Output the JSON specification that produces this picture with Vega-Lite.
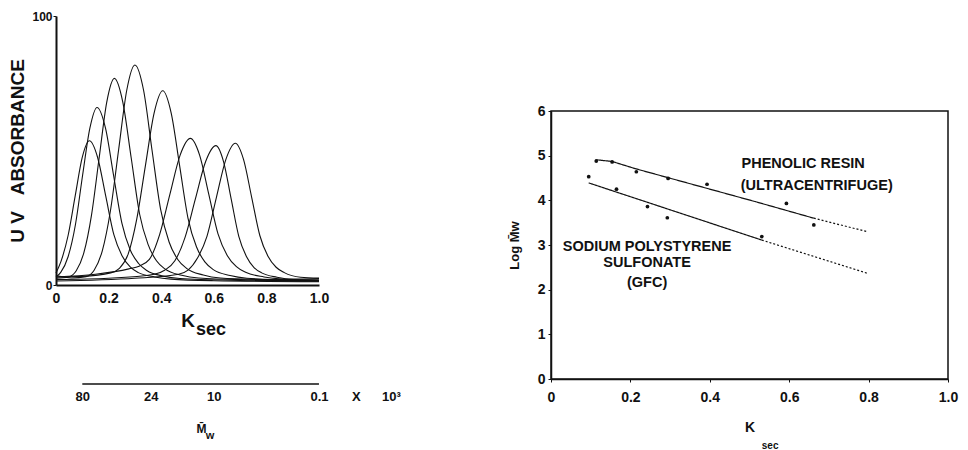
{
  "$schema": "https://vega.github.io/schema/vega-lite/v6.json",
  "background": "white",
  "padding": {"left": 8, "top": 10, "right": 5, "bottom": 0},
  "config": {
    "font": "Liberation Sans",
    "view": {"stroke": null},
    "axis": {"labelFont": "Liberation Sans", "titleFont": "Liberation Sans", "labelFontWeight": "bold", "titleFontWeight": "bold", "labelColor": "#111", "titleColor": "#111", "domainColor": "#111", "tickColor": "#111", "grid": false, "labelOverlap": false},
    "text": {"font": "Liberation Sans", "fontWeight": "bold", "color": "#111"}
  },
  "datasets": {
    "uv": [
      {"c":1,"k":0,"v":4.5},{"c":1,"k":0.019,"v":8.8},{"c":1,"k":0.046,"v":18.4},{"c":1,"k":0.073,"v":33.1},{"c":1,"k":0.1,"v":47.5},{"c":1,"k":0.127,"v":53.6},{"c":1,"k":0.158,"v":47.5},{"c":1,"k":0.189,"v":33.1},{"c":1,"k":0.22,"v":18.7},{"c":1,"k":0.251,"v":10.9},{"c":1,"k":0.282,"v":6.7},{"c":1,"k":0.313,"v":4.6},{"c":1,"k":0.375,"v":3.0},{"c":1,"k":0.437,"v":2.2},{"c":1,"k":0.6,"v":1.6},{"c":1,"k":1.0,"v":1.2},
      {"c":2,"k":0,"v":3.0},{"c":2,"k":0.018,"v":4.7},{"c":2,"k":0.046,"v":10.5},{"c":2,"k":0.074,"v":22.5},{"c":2,"k":0.101,"v":40.7},{"c":2,"k":0.129,"v":58.4},{"c":2,"k":0.156,"v":66.0},{"c":2,"k":0.188,"v":58.4},{"c":2,"k":0.219,"v":40.7},{"c":2,"k":0.251,"v":22.8},{"c":2,"k":0.282,"v":13.1},{"c":2,"k":0.314,"v":8.0},{"c":2,"k":0.345,"v":5.4},{"c":2,"k":0.408,"v":3.3},{"c":2,"k":0.471,"v":2.4},{"c":2,"k":0.7,"v":1.7},{"c":2,"k":1.0,"v":1.4},
      {"c":3,"k":0,"v":2.5},{"c":3,"k":0.048,"v":3.0},{"c":3,"k":0.077,"v":5.3},{"c":3,"k":0.106,"v":12.0},{"c":3,"k":0.135,"v":26.0},{"c":3,"k":0.164,"v":47.2},{"c":3,"k":0.193,"v":68.0},{"c":3,"k":0.222,"v":76.8},{"c":3,"k":0.254,"v":68.0},{"c":3,"k":0.286,"v":47.2},{"c":3,"k":0.318,"v":26.3},{"c":3,"k":0.35,"v":15.1},{"c":3,"k":0.382,"v":9.0},{"c":3,"k":0.414,"v":6.0},{"c":3,"k":0.478,"v":3.6},{"c":3,"k":0.542,"v":2.6},{"c":3,"k":0.75,"v":1.9},{"c":3,"k":1.0,"v":1.5},
      {"c":4,"k":0,"v":3.5},{"c":4,"k":0.06,"v":2.6},{"c":4,"k":0.114,"v":3.1},{"c":4,"k":0.145,"v":5.5},{"c":4,"k":0.176,"v":12.7},{"c":4,"k":0.207,"v":27.6},{"c":4,"k":0.238,"v":50.2},{"c":4,"k":0.269,"v":72.4},{"c":4,"k":0.3,"v":81.8},{"c":4,"k":0.333,"v":72.4},{"c":4,"k":0.365,"v":50.2},{"c":4,"k":0.398,"v":28.0},{"c":4,"k":0.43,"v":16.0},{"c":4,"k":0.463,"v":9.5},{"c":4,"k":0.495,"v":6.3},{"c":4,"k":0.56,"v":3.7},{"c":4,"k":0.625,"v":2.6},{"c":4,"k":0.8,"v":2.0},{"c":4,"k":1.0,"v":1.7},
      {"c":5,"k":0,"v":3.0},{"c":5,"k":0.1,"v":3.2},{"c":5,"k":0.208,"v":4.5},{"c":5,"k":0.241,"v":6.2},{"c":5,"k":0.274,"v":11.4},{"c":5,"k":0.307,"v":24.5},{"c":5,"k":0.34,"v":44.4},{"c":5,"k":0.373,"v":63.9},{"c":5,"k":0.406,"v":72.2},{"c":5,"k":0.438,"v":63.9},{"c":5,"k":0.47,"v":44.4},{"c":5,"k":0.502,"v":24.8},{"c":5,"k":0.534,"v":14.2},{"c":5,"k":0.566,"v":8.6},{"c":5,"k":0.598,"v":5.7},{"c":5,"k":0.662,"v":3.5},{"c":5,"k":0.726,"v":2.5},{"c":5,"k":0.85,"v":2.0},{"c":5,"k":1.0,"v":1.8},
      {"c":6,"k":0,"v":3.0},{"c":6,"k":0.15,"v":4.0},{"c":6,"k":0.277,"v":6.0},{"c":6,"k":0.316,"v":7.0},{"c":6,"k":0.355,"v":9.5},{"c":6,"k":0.394,"v":18.7},{"c":6,"k":0.433,"v":33.7},{"c":6,"k":0.472,"v":48.3},{"c":6,"k":0.511,"v":54.5},{"c":6,"k":0.546,"v":48.3},{"c":6,"k":0.581,"v":33.7},{"c":6,"k":0.616,"v":19.0},{"c":6,"k":0.651,"v":11.0},{"c":6,"k":0.686,"v":6.8},{"c":6,"k":0.721,"v":4.7},{"c":6,"k":0.791,"v":3.0},{"c":6,"k":0.861,"v":2.2},{"c":6,"k":1.0,"v":1.8},
      {"c":7,"k":0,"v":2.0},{"c":7,"k":0.2,"v":2.5},{"c":7,"k":0.374,"v":4.0},{"c":7,"k":0.413,"v":5.5},{"c":7,"k":0.452,"v":9.0},{"c":7,"k":0.491,"v":17.8},{"c":7,"k":0.53,"v":32.0},{"c":7,"k":0.569,"v":45.9},{"c":7,"k":0.608,"v":51.8},{"c":7,"k":0.637,"v":45.9},{"c":7,"k":0.666,"v":32.0},{"c":7,"k":0.695,"v":18.1},{"c":7,"k":0.724,"v":10.6},{"c":7,"k":0.753,"v":6.5},{"c":7,"k":0.782,"v":4.5},{"c":7,"k":0.84,"v":2.9},{"c":7,"k":0.898,"v":2.2},{"c":7,"k":1.0,"v":2.4},
      {"c":8,"k":0,"v":1.5},{"c":8,"k":0.3,"v":2.5},{"c":8,"k":0.466,"v":4.0},{"c":8,"k":0.502,"v":5.5},{"c":8,"k":0.538,"v":10.0},{"c":8,"k":0.574,"v":18.1},{"c":8,"k":0.61,"v":32.6},{"c":8,"k":0.646,"v":46.7},{"c":8,"k":0.682,"v":52.7},{"c":8,"k":0.713,"v":46.7},{"c":8,"k":0.744,"v":32.6},{"c":8,"k":0.775,"v":18.4},{"c":8,"k":0.806,"v":10.7},{"c":8,"k":0.837,"v":6.6},{"c":8,"k":0.868,"v":4.6},{"c":8,"k":0.93,"v":2.9},{"c":8,"k":1.0,"v":2.6}
    ],
    "fits": [
      {"series":"phenolic","seg":"fit","k":0.112,"logM":4.91},
      {"series":"phenolic","seg":"fit","k":0.154,"logM":4.87},
      {"series":"phenolic","seg":"fit","k":0.212,"logM":4.71},
      {"series":"phenolic","seg":"fit","k":0.515,"logM":3.97},
      {"series":"phenolic","seg":"fit","k":0.662,"logM":3.6},
      {"series":"phenolic","seg":"extrapolated","k":0.662,"logM":3.6},
      {"series":"phenolic","seg":"extrapolated","k":0.796,"logM":3.3},
      {"series":"sodium","seg":"fit","k":0.095,"logM":4.39},
      {"series":"sodium","seg":"fit","k":0.531,"logM":3.11},
      {"series":"sodium","seg":"extrapolated","k":0.531,"logM":3.11},
      {"series":"sodium","seg":"extrapolated","k":0.796,"logM":2.37}
    ],
    "points": [
      {"series":"phenolic","k":0.114,"logM":4.88},
      {"series":"phenolic","k":0.154,"logM":4.86},
      {"series":"phenolic","k":0.215,"logM":4.64},
      {"series":"phenolic","k":0.295,"logM":4.49},
      {"series":"phenolic","k":0.393,"logM":4.36},
      {"series":"phenolic","k":0.593,"logM":3.93},
      {"series":"phenolic","k":0.662,"logM":3.45},
      {"series":"sodium","k":0.095,"logM":4.53},
      {"series":"sodium","k":0.165,"logM":4.25},
      {"series":"sodium","k":0.243,"logM":3.86},
      {"series":"sodium","k":0.293,"logM":3.61},
      {"series":"sodium","k":0.531,"logM":3.19}
    ]
  },
  "spacing": 96,
  "hconcat": [
    {
      "spacing": 43,
      "vconcat": [
        {
          "width": 263,
          "height": 269,
          "layer": [
            {
              "data": {"name": "uv"},
              "mark": {"type": "line", "interpolate": "monotone", "strokeWidth": 1.1, "color": "#111"},
              "encoding": {
                "x": {"field": "k", "type": "quantitative", "scale": {"domain": [0, 1], "nice": false, "zero": false},
                  "axis": {"values": [0, 0.2, 0.4, 0.6, 0.8, 1], "labelExpr": "datum.value == 0 ? '0' : format(datum.value, '.1f')", "labelFlush": false, "ticks": false, "domainWidth": 2, "labelFontSize": 14, "labelPadding": 6, "title": "K", "titleFontSize": 19, "titlePadding": 6}},
                "y": {"field": "v", "type": "quantitative", "scale": {"domain": [0, 100], "nice": false},
                  "axis": {"values": [0, 100], "tickSize": 3, "domainWidth": 2, "labelFontSize": 12, "labelPadding": 1, "title": "U\u00a0V\u00a0\u00a0\u00a0ABSORBANCE", "titleFontSize": 19, "titlePadding": 4}},
                "detail": {"field": "c", "type": "nominal"}
              }
            },
            {
              "data": {"values": [{}]},
              "mark": {"type": "text", "text": "sec", "fontSize": 18, "baseline": "middle"},
              "encoding": {"x": {"datum": 0.589, "type": "quantitative"}, "y": {"datum": -16.9, "type": "quantitative"}}
            }
          ]
        },
        {
          "width": 355,
          "height": 1,
          "data": {"values": [{}]},
          "layer": [
            {
              "mark": {"type": "rule", "color": "#111", "strokeWidth": 1.5},
              "encoding": {
                "x": {"datum": 0.1, "type": "quantitative", "scale": {"domain": [0, 1.35], "nice": false, "zero": false},
                  "axis": {"values": [0.1, 0.36, 0.6, 1.0, 1.14, 1.274], "labelExpr": "datum.value < 0.2 ? '80' : datum.value < 0.5 ? '24' : datum.value < 0.8 ? '10' : datum.value < 1.07 ? '0.1' : datum.value < 1.2 ? 'X' : '10³'", "labelFlush": false, "domain": false, "ticks": false, "labelFontSize": 13, "labelPadding": 6, "title": "M̄", "titleFontSize": 12, "titlePadding": 20, "titleX": 145}},
                "x2": {"datum": 1.0},
                "y": {"datum": 0, "type": "quantitative", "scale": {"domain": [0, 1], "nice": false}, "axis": null}
              }
            },
            {
              "mark": {"type": "text", "text": "w", "fontSize": 11, "baseline": "middle"},
              "encoding": {"x": {"datum": 0.586, "type": "quantitative"}, "y": {"datum": -52, "type": "quantitative"}}
            }
          ]
        }
      ]
    },
    {
      "spacing": 0,
      "vconcat": [
        {
          "width": 397,
          "height": 87,
          "data": {"values": []},
          "mark": {"type": "point"},
          "encoding": {}
        },
        {
          "width": 397,
          "height": 268,
          "view": {"stroke": "#111", "strokeWidth": 1.5},
          "layer": [
            {
              "data": {"name": "fits"},
              "mark": {"type": "line", "strokeWidth": 1.2, "color": "#111"},
              "encoding": {
                "x": {"field": "k", "type": "quantitative", "scale": {"domain": [0, 1], "nice": false, "zero": false},
                  "axis": {"values": [0, 0.2, 0.4, 0.6, 0.8, 1], "labelExpr": "datum.value == 0 ? '0' : format(datum.value, '.1f')", "labelFlush": false, "tickSize": 3, "domainWidth": 1.5, "labelFontSize": 14, "labelPadding": 8, "title": "K", "titleFontSize": 14, "titlePadding": 16}},
                "y": {"field": "logM", "type": "quantitative", "scale": {"domain": [0, 6], "nice": false},
                  "axis": {"values": [0, 1, 2, 3, 4, 5, 6], "tickSize": 3, "domainWidth": 1.5, "labelFontSize": 14, "labelPadding": 3, "title": "Log M̄w", "titleFontSize": 13, "titlePadding": 16}},
                "detail": [{"field": "series", "type": "nominal"}, {"field": "seg", "type": "nominal"}],
                "strokeDash": {"field": "seg", "type": "nominal", "scale": {"domain": ["fit", "extrapolated"], "range": [[1, 0], [2, 2]]}, "legend": null}
              }
            },
            {
              "data": {"name": "points"},
              "mark": {"type": "circle", "size": 14, "color": "#111", "opacity": 1},
              "encoding": {
                "x": {"field": "k", "type": "quantitative"},
                "y": {"field": "logM", "type": "quantitative"}
              }
            },
            {
              "data": {"values": [{}]},
              "mark": {"type": "text", "text": "PHENOLIC RESIN", "fontSize": 14.5, "align": "left", "baseline": "middle"},
              "encoding": {"x": {"datum": 0.48, "type": "quantitative"}, "y": {"datum": 4.81, "type": "quantitative"}}
            },
            {
              "data": {"values": [{}]},
              "mark": {"type": "text", "text": "(ULTRACENTRIFUGE)", "fontSize": 14.5, "align": "left", "baseline": "middle"},
              "encoding": {"x": {"datum": 0.478, "type": "quantitative"}, "y": {"datum": 4.33, "type": "quantitative"}}
            },
            {
              "data": {"values": [{}]},
              "mark": {"type": "text", "text": "SODIUM POLYSTYRENE", "fontSize": 14.5, "align": "center", "baseline": "middle"},
              "encoding": {"x": {"datum": 0.242, "type": "quantitative"}, "y": {"datum": 2.96, "type": "quantitative"}}
            },
            {
              "data": {"values": [{}]},
              "mark": {"type": "text", "text": "SULFONATE", "fontSize": 14.5, "align": "center", "baseline": "middle"},
              "encoding": {"x": {"datum": 0.242, "type": "quantitative"}, "y": {"datum": 2.59, "type": "quantitative"}}
            },
            {
              "data": {"values": [{}]},
              "mark": {"type": "text", "text": "(GFC)", "fontSize": 14.5, "align": "center", "baseline": "middle"},
              "encoding": {"x": {"datum": 0.242, "type": "quantitative"}, "y": {"datum": 2.16, "type": "quantitative"}}
            },
            {
              "data": {"values": [{}]},
              "mark": {"type": "text", "text": "sec", "fontSize": 10, "align": "center", "baseline": "middle"},
              "encoding": {"x": {"datum": 0.552, "type": "quantitative"}, "y": {"datum": -1.5, "type": "quantitative"}}
            }
          ]
        }
      ]
    }
  ]
}
